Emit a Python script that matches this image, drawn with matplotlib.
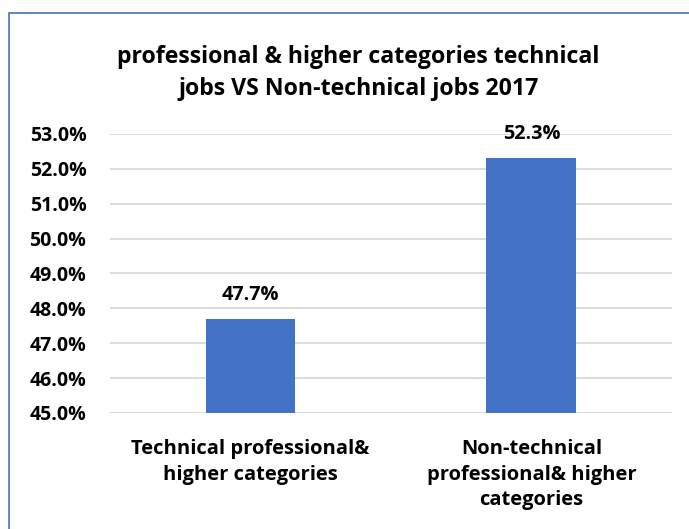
import matplotlib.pyplot as plt
from matplotlib.patches import Rectangle
from matplotlib.ticker import FuncFormatter

categories = ['Technical professional&\nhigher categories',
              'Non-technical\nprofessional& higher\ncategories']
shares = [47.7, 52.3]
title = 'professional & higher categories technical\njobs VS Non-technical jobs 2017'

plt.rcParams['font.family'] = ['Open Sans', 'DejaVu Sans']
plt.rcParams['font.weight'] = 'bold'

fig = plt.figure(figsize=(6.89, 5.29), dpi=100)
ax = fig.add_axes([0.1597, 0.2193, 0.8153, 0.5274])

x = range(len(categories))
bars = ax.bar(x, [v - 45 for v in shares], bottom=45, width=0.32,
              color='#4472C4', zorder=3)
for b, v in zip(bars, shares):
    ax.text(b.get_x() + b.get_width() / 2, v + 0.4, '{:.1f}%'.format(v),
            ha='center', va='bottom', fontsize=14.3, fontweight='bold')

ax.set_xlim(-0.5, 1.5)
ax.set_ylim(45, 53)
ax.set_yticks(range(45, 54))
ax.yaxis.set_major_formatter(FuncFormatter(lambda v, p: '{:.1f}%'.format(v)))
ax.set_xticks(list(x))
ax.set_xticklabels(categories, fontsize=14.5, fontweight='bold', linespacing=1.35)
ax.tick_params(axis='y', labelsize=14, length=0, pad=17)
ax.tick_params(axis='x', length=0, pad=19)
for lbl in ax.get_yticklabels():
    lbl.set_fontweight('bold')

ax.grid(axis='y', color='#d9d9d9', linewidth=1.3, zorder=0)
for s in ax.spines.values():
    s.set_visible(False)

fig.text(0.52, 0.862, title, ha='center', va='center', fontsize=16.7,
         fontweight='bold', linespacing=1.4)

# chart frame
fig.patches.append(Rectangle((9 / 689, -0.1), 1.1, 1 - 13 / 529 + 0.1,
                             transform=fig.transFigure, fill=False,
                             edgecolor='#4472C4', linewidth=1.2))

fig.savefig('out.png', dpi=100)
